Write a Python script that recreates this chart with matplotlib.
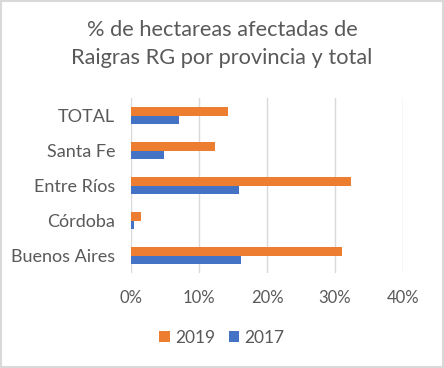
import numpy as np
import matplotlib.pyplot as plt
from matplotlib.ticker import PercentFormatter

plt.rcParams['font.family'] = ['Lato', 'DejaVu Sans']

provincias = ['Buenos Aires', 'Córdoba', 'Entre Ríos', 'Santa Fe', 'TOTAL']
pct_2019 = [31.0, 1.4, 32.3, 12.3, 14.2]
pct_2017 = [16.2, 0.5, 15.9, 4.8, 7.1]

gray = '#595959'
c2019 = '#ED7D31'
c2017 = '#4472C4'

fig = plt.figure(figsize=(4.44, 3.68), dpi=100)
ax = fig.add_axes([131/444, 1 - 273/368, 272/444, 175/368])

y = np.arange(len(provincias))
h = 0.23
ax.barh(y + h/2, pct_2019, height=h, color=c2019, label='2019', zorder=3)
ax.barh(y - h/2, pct_2017, height=h, color=c2017, label='2017', zorder=3)

ax.set_xlim(0, 40)
ax.set_ylim(-0.5, len(provincias) - 0.5)
ax.set_xticks([0, 10, 20, 30, 40])
ax.xaxis.set_major_formatter(PercentFormatter(decimals=0))
ax.set_yticks(y)
ax.set_yticklabels(provincias)
ax.tick_params(axis='x', length=0, labelsize=12, labelcolor=gray, pad=12)
ax.tick_params(axis='y', length=0, labelsize=13, labelcolor=gray, pad=11.5)
ax.grid(axis='x', color='#D9D9D9', linewidth=1, zorder=0)
for s in ax.spines.values():
    s.set_visible(False)

fig.text(0.5, 1 - 30/368, '% de hectareas afectadas de', ha='center', va='center',
         fontsize=15.7, color=gray)
fig.text(0.5, 1 - 58/368, 'Raigras RG por provincia y total', ha='center', va='center',
         fontsize=15.7, color=gray)

leg = fig.legend(loc='center', bbox_to_anchor=(0.5, 1 - 338/368), ncol=2, frameon=False,
                 fontsize=12.5, handlelength=0.6, handleheight=0.6, handletextpad=0.3,
                 columnspacing=0.8, labelcolor=gray)

fig.patches.append(plt.Rectangle((0.002, 0.002), 0.996, 0.996, transform=fig.transFigure,
                                 fill=False, edgecolor='#D9D9D9', linewidth=1.5))

fig.savefig('out.png', dpi=100)
